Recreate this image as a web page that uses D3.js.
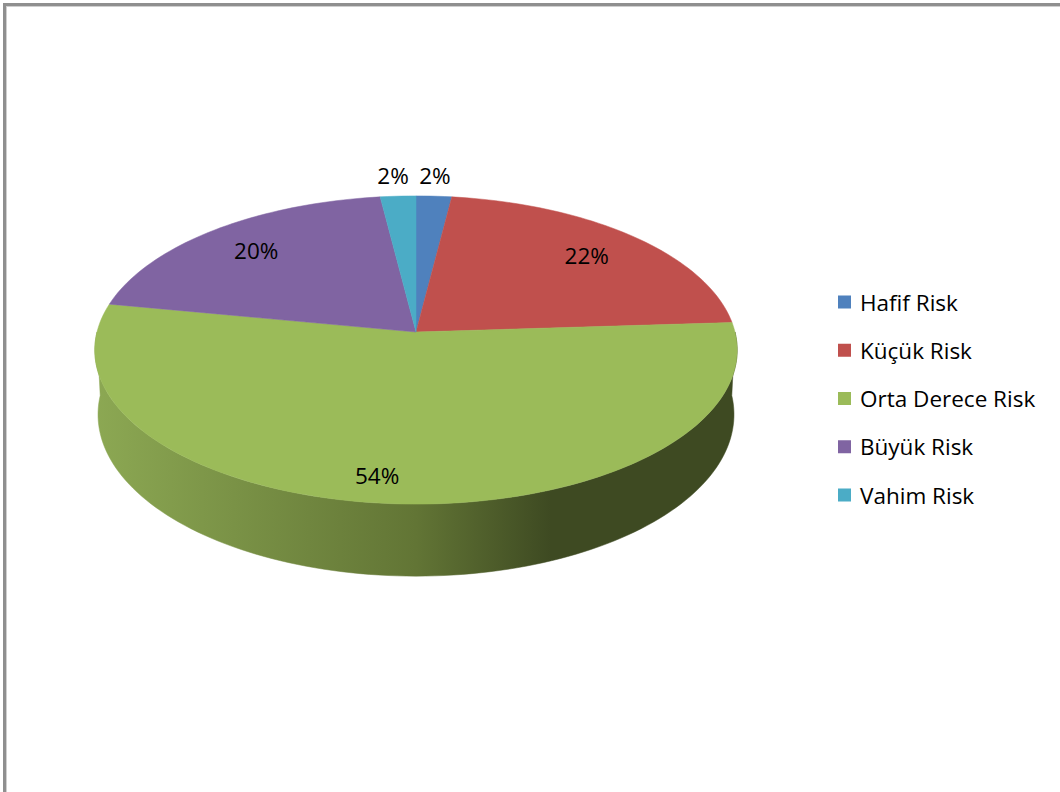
<!DOCTYPE html>
<html><head><meta charset="utf-8">
<script src="https://cdn.jsdelivr.net/npm/d3@7"></script>
<style>html,body{margin:0;padding:0;background:#fff;}svg{display:block;}</style>
</head><body>
<svg id="chart" width="1060" height="792"></svg>
<script>
const categories = ["Hafif Risk", "Küçük Risk", "Orta Derece Risk", "Büyük Risk", "Vahim Risk"];
const values = [2, 22, 54, 20, 2];
const labels = ["2%", "22%", "54%", "20%", "2%"];
const colors = ["#4F81BD", "#C0504D", "#9BBB59", "#8064A2", "#4BACC6"];
const wallColors = ["#8CA853", "#627535", "#3E4A22"];

const W = 1060, H = 792;
const svg = d3.select("#chart");
const font = "'Open Sans', 'Noto Sans', sans-serif";
const fs = 22.5;

// frame
svg.append("rect").attr("x", 4.5).attr("y", 4.5).attr("width", W).attr("height", H)
  .attr("fill", "#fff").attr("stroke", "#8f8f8f").attr("stroke-width", 3);
svg.append("rect").attr("x", 6.5).attr("y", 6.5).attr("width", W).attr("height", H)
  .attr("fill", "none").attr("stroke", "#cfcfcf").attr("stroke-width", 1);

// 3D pie projection
const cx = 416, cy = 332, A = 319, B = 152, k = 0.1169, depth = 63.6, shrink = 0.99;
function proj(angle, r, level) {
  const u = Math.sin(angle) * r, v = Math.cos(angle) * r;
  const d = 1 + k * v;
  const s = level ? shrink : 1;
  return [cx + A * u * s / d, cy - B * v / d + (level ? depth / d : 0)];
}

const pie = d3.pie().sort(null).value(d => d)(values);
const line = d3.line();
const N = 240;
function arcPts(a0, a1, level) {
  const n = Math.max(2, Math.ceil(N * (a1 - a0) / (2 * Math.PI)));
  return d3.range(n + 1).map(i => proj(a0 + (a1 - a0) * i / n, 1, level));
}

// gradient for wall
const defs = svg.append("defs");
const grad = defs.append("linearGradient").attr("id", "wallGrad")
  .attr("gradientUnits", "userSpaceOnUse")
  .attr("x1", cx - A * 1.005).attr("x2", cx + A * 1.005).attr("y1", 0).attr("y2", 0);
grad.append("stop").attr("offset", "0%").attr("stop-color", wallColors[0]);
grad.append("stop").attr("offset", "50%").attr("stop-color", wallColors[1]);
grad.append("stop").attr("offset", "71%").attr("stop-color", wallColors[2]);
grad.append("stop").attr("offset", "100%").attr("stop-color", wallColors[2]);

// walls (front half only: angles between PI/2 and 3PI/2)
const g = svg.append("g");
pie.forEach((p, i) => {
  const a0 = Math.max(p.startAngle, Math.PI / 2), a1 = Math.min(p.endAngle, 3 * Math.PI / 2);
  if (a1 <= a0) return;
  const top = arcPts(a0, a1, 0), bot = arcPts(a0, a1, 1).reverse();
  g.append("path").attr("d", line(top.concat(bot)) + "Z")
    .attr("fill", "url(#wallGrad)").attr("stroke", "url(#wallGrad)").attr("stroke-width", 0.5);
});

// top faces
pie.forEach((p, i) => {
  const pts = [proj(0, 0, 0)].concat(arcPts(p.startAngle, p.endAngle, 0));
  g.append("path").attr("d", line(pts) + "Z").attr("fill", colors[i])
    .attr("stroke", colors[i]).attr("stroke-width", 0.5);
});

// data labels
pie.forEach((p, i) => {
  const mid = (p.startAngle + p.endAngle) / 2;
  const frac = (p.endAngle - p.startAngle) / (2 * Math.PI);
  let x, y;
  if (frac < 0.05) {
    const rim = proj(mid, 1, 0);
    x = rim[0] + (Math.sin(mid) < 0 ? -5 : 1);
    y = rim[1] - 21;
  } else {
    const v = Math.cos(mid);
    const f = 0.78 + 0.07 * Math.max(0, -v);
    [x, y] = proj(mid, f, 0);
    if (v < -0.5) x -= 20;
  }
  svg.append("text").attr("x", x).attr("y", y).attr("text-anchor", "middle")
    .attr("dominant-baseline", "central").attr("font-family", font).attr("font-size", fs)
    .attr("fill", "#000").text(labels[i]);
});

// legend
const ly = d3.scalePoint().domain(categories).range([302, 495]);
const leg = svg.append("g");
categories.forEach((c, i) => {
  leg.append("rect").attr("x", 838).attr("y", ly(c) - 6.5).attr("width", 13).attr("height", 13).attr("fill", colors[i]);
  leg.append("text").attr("x", 860).attr("y", ly(c)).attr("dominant-baseline", "central")
    .attr("font-family", font).attr("font-size", fs).attr("fill", "#000").text(c);
});
</script>
</body></html>
